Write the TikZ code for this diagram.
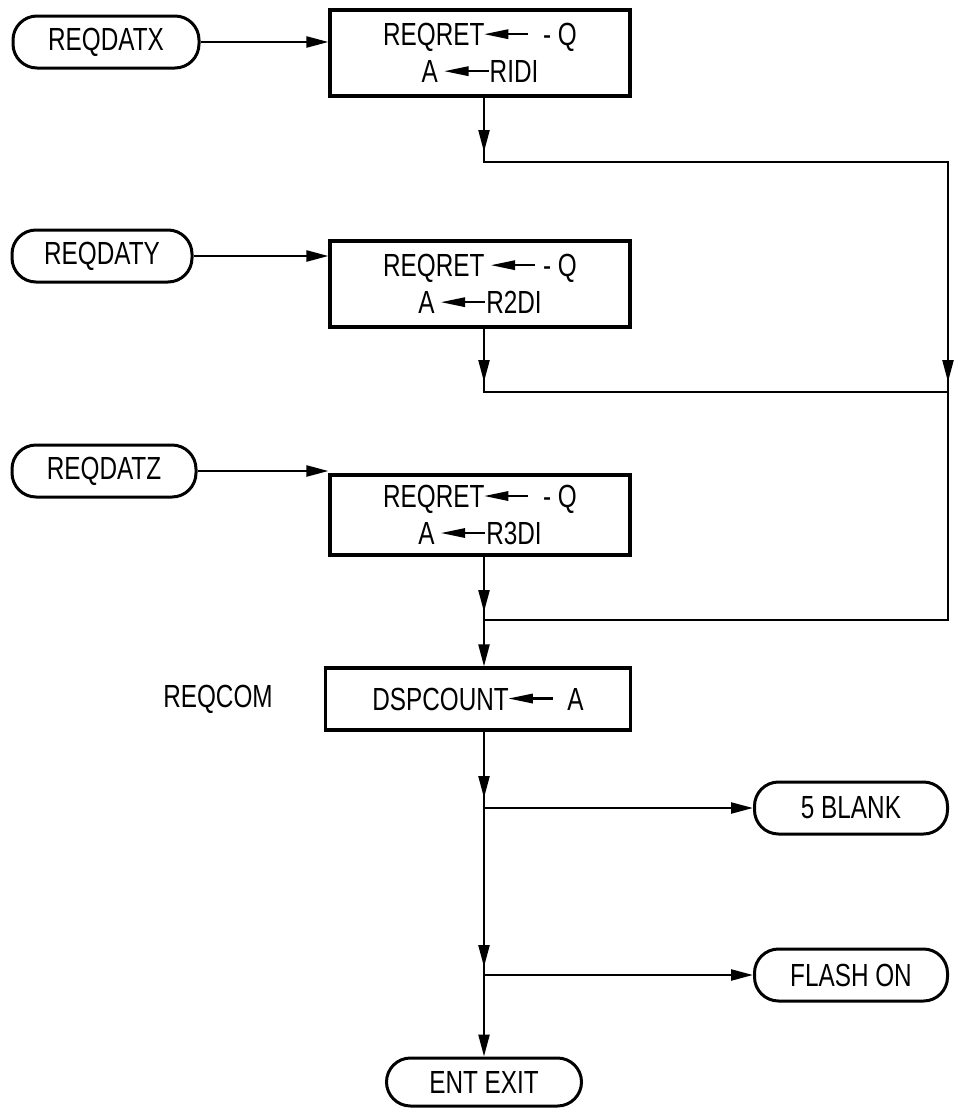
\documentclass[tikz,border=0pt]{standalone}
\usepackage{fontspec}
\setmainfont{Liberation Sans}[FakeStretch=0.76]
\usetikzlibrary{arrows.meta,calc}
\newcommand{\larr}{\tikz[baseline={(0pt,-11.5pt)}]{\fill (0pt,0pt) -- (24pt,-5pt) -- (24pt,5pt) -- cycle; \draw[line width=2.2pt] (20pt,0pt) -- (44pt,0pt);}}
\begin{document}
\begin{tikzpicture}[x=1pt,y=-1pt,
  every node/.style={font=\fontsize{32}{37}\selectfont},
  term/.style={draw, line width=3pt, rounded corners=24pt, minimum height=52pt, inner sep=0pt},
  box/.style={draw, line width=3.2pt, minimum width=300pt, inner sep=0pt, align=center},
  conn/.style={line width=2.3pt},
  arr/.style={line width=2.3pt, -{Triangle[length=22pt,width=11pt]}}]
\useasboundingbox (0,0) rectangle (961,1114);
% terminals
\node[term, minimum width=186pt] (tx) at (106,42) {REQDATX};
\node[term, minimum width=180pt] (ty) at (102,256) {REQDATY};
\node[term, minimum width=184pt] (tz) at (104,471) {REQDATZ};
\node[term, minimum width=193pt] (blank) at (851,808) {5 BLANK};
\node[term, minimum width=193pt] (flash) at (851,975) {FLASH ON};
\node[term, minimum width=195pt, minimum height=48pt] (ee) at (484,1082) {ENT EXIT};
% boxes
\node[box, minimum height=86pt] (b1) at (480,53) {REQRET\larr\ \ -\ Q\\A \larr RIDI};
\node[box, minimum height=86pt] (b2) at (480,284) {REQRET \larr\ -\ Q\\A \larr R2DI};
\node[box, minimum height=80pt] (b3) at (480,515) {REQRET\larr\ \ -\ Q\\A \larr R3DI};
\node[box, minimum height=62pt, minimum width=305pt] (b4) at (478,699) {DSPCOUNT\larr\ \ A};
\node (rc) at (218,699) {REQCOM};
% junctions
\coordinate (j1) at (484,162);
\coordinate (r1) at (948,162);
\coordinate (j2) at (484,392);
\coordinate (r2) at (948,392);
\coordinate (j3) at (484,620);
\coordinate (r3) at (948,620);
\coordinate (j4) at (484,808);
\coordinate (j5) at (484,975);
% entry arrows
\draw[arr] (tx.east) -- (tx.east -| b1.west);
\draw[arr] (ty.east) -- (ty.east -| b2.west);
\draw[arr] (tz.east) -- (tz.east -| b3.west);
% merge network
\draw[conn] (b1.south -| j1) -- (j1) -- (r1) -- (r3) -- (j3);
\draw[arr, shorten >=10pt] (b1.south -| j1) -- (j1);
\draw[conn] (b2.south -| j2) -- (j2) -- (r2);
\draw[arr, shorten >=10pt] (b2.south -| j2) -- (j2);
\draw[arr, shorten >=10pt] (r1) -- (r2);
\draw[conn] (b3.south -| j3) -- (j3);
\draw[arr, shorten >=8pt] (b3.south -| j3) -- (j3);
\draw[arr] (j3) -- (b4.north -| j3);
% lower part
\draw[conn] (b4.south -| j4) -- (j4) -- (j5);
\draw[arr, shorten >=10pt] (b4.south -| j4) -- (j4);
\draw[arr, shorten >=8pt] (j4) -- (j5);
\draw[arr] (j5) -- (ee.north);
\draw[arr] (j4) -- (blank.west);
\draw[arr] (j5) -- (flash.west);
\end{tikzpicture}
\end{document}
